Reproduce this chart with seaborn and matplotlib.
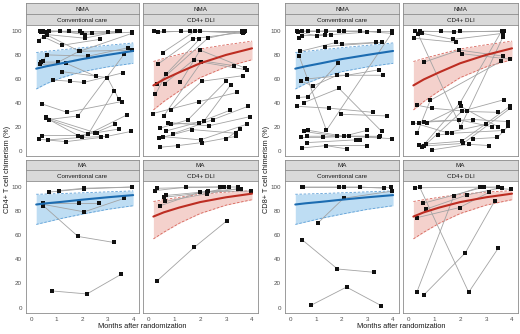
import matplotlib
matplotlib.use("Agg")
import matplotlib.pyplot as plt
import seaborn as sns
import pandas as pd

sns.set_style("white")
plt.rcParams["font.family"] = ["Liberation Sans", "DejaVu Sans"]

# ---- data: one (months, chimerism %) pair per patient, per panel ----
cd4_nma_cc = [
    ([0.34, 1.15, 2.1, 3.95], [100, 100, 97, 99]),
    ([0.45, 1.9, 3.35], [100, 100, 100]),
    ([0.55, 1.5, 2.4, 3.0], [99, 100, 98, 99]),
    ([0.3, 0.7, 2.0], [92, 100, 98]),
    ([0.5, 1.2, 2.7], [95, 88, 93]),
    ([0.62, 2.1, 3.5], [97, 94, 100]),
    ([0.4, 1.9, 3.95], [99, 83, 98]),
    ([0.38, 1.07, 1.88, 3.97], [74, 74, 83, 84]),
    ([0.35, 1.37, 2.55], [72, 73, 62]),
    ([0.45, 0.63, 2.25, 3.81], [75, 80, 79, 86]),
    ([0.85, 1.54, 2.06, 3.59], [59, 58, 57, 65]),
    ([1.22, 2.99, 3.44], [66, 61, 43]),
    ([0.7, 1.84, 3.66], [26, 29, 81]),
    ([0.43, 1.41, 3.55], [39, 32, 41]),
    ([0.57, 2.52, 3.29], [28, 15, 22]),
    ([0.7, 1.98, 3.77], [26, 11, 30]),
    ([0.31, 1.36, 2.73], [9.5, 7.5, 11]),
    ([0.43, 1.83, 2.58, 3.43], [12.6, 12.6, 15, 18]),
    ([0.67, 1.98, 2.99, 3.91], [9, 11, 12, 16]),
    ([0.57, 2.25, 3.25], [27, 14, 50]),
]
cd4_nma_dli = [
    ([0.21, 1.28, 3.68], [100, 100, 100]),
    ([0.38, 1.6, 3.6], [99, 100, 99]),
    ([0.6, 1.98, 3.72], [100, 100, 100]),
    ([0.56, 1.81, 3.64], [82, 100, 98]),
    ([0.36, 1.73, 3.7], [72, 93.5, 99]),
    ([0.34, 2.3, 3.6], [56, 94, 100]),
    ([0.28, 0.69, 1.97], [47, 64, 93]),
    ([0.63, 1.76, 3.31], [56, 76, 71]),
    ([1.24, 2.0, 3.73], [57, 84, 69]),
    ([0.6, 2.05, 3.8], [29, 74, 67.5]),
    ([0.88, 2.07, 3.64], [34, 58, 62.6]),
    ([0.18, 1.97, 3.42], [31, 41, 48.6]),
    ([0.44, 1.53, 3.0], [18.7, 25.7, 58]),
    ([0.7, 2.16, 3.18], [16.5, 25, 55]),
    ([0.76, 2.33, 3.94], [23.5, 20.7, 28.5]),
    ([0.89, 1.94, 3.16], [22, 23.5, 33.8]),
    ([0.94, 2.51, 3.84], [14, 26, 37]),
    ([0.41, 1.68, 3.37], [10.3, 17.6, 14.5]),
    ([0.56, 2.02, 3.79], [11.7, 9, 22]),
    ([0.44, 1.15, 2.06, 3.4], [2.8, 4.2, 6.7, 12]),
    ([2.99, 3.55], [9.5, 18.4]),
]
cd4_ma_cc = [
    ([0.69, 2.08, 3.95], [95.8, 98.5, 100]),
    ([1.09, 2.08, 3.95], [97, 99, 100]),
    ([0.48, 1.86, 2.68], [86.8, 86.8, 86.8]),
    ([0.48, 2.08, 3.66], [85.6, 79.4, 90.7]),
    ([0.48, 1.84, 3.25], [84.5, 59, 54]),
    ([0.82, 2.19, 3.53], [13.8, 11.3, 27.6]),
]
cd4_ma_dli = [
    ([0.27, 1.47, 2.93], [97, 100, 100]),
    ([0.35, 2.78, 3.47], [99, 100, 100]),
    ([0.46, 1.99, 3.58], [84.5, 95.8, 98.6]),
    ([0.61, 2.26, 3.12], [91.5, 95.5, 100]),
    ([0.68, 2.31, 3.97], [93, 96.3, 96.6]),
    ([0.64, 2.28, 3.47], [88, 94.6, 98.6]),
    ([0.35, 1.77, 3.02], [22.3, 49.9, 71.8]),
]
cd8_nma_cc = [
    ([0.25, 1.1, 2.11, 3.44], [100, 100, 100, 100]),
    ([0.45, 1.41, 2.71, 3.94], [100, 100, 100, 98]),
    ([0.7, 1.9, 3.94], [100, 100, 100]),
    ([0.3, 1.05, 1.59, 2.99], [99, 96, 97, 99]),
    ([0.35, 0.48, 1.35], [94, 96, 97]),
    ([0.4, 1.8, 2.03, 3.35], [83, 90.5, 89, 90.5]),
    ([1.36, 3.56], [87, 90.5]),
    ([0.35, 1.41, 3.94], [79, 17, 98]),
    ([0.43, 0.89, 1.83, 3.61], [58, 54, 63, 63]),
    ([0.67, 2.21, 3.46], [60, 63, 67.6]),
    ([0.31, 0.69, 1.86], [44.4, 45, 73]),
    ([0.52, 1.9, 3.56], [40, 52, 16]),
    ([0.28, 1.51, 3.22], [37, 35.5, 32]),
    ([1.98, 3.75], [30.4, 29]),
    ([0.54, 1.83, 3.5], [16, 12, 12]),
    ([0.7, 2.08, 2.99], [17, 12, 17]),
    ([0.43, 1.26, 2.29, 3.94], [11, 11, 12, 10]),
    ([0.67, 2.99, 3.46], [12, 12, 11]),
    ([0.66, 2.55, 2.73], [6.7, 9, 9]),
    ([0.45, 1.39, 2.99], [2.2, 4.2, 4.2]),
    ([1.39, 2.21], [4.2, 1.4]),
]
cd8_nma_dli = [
    ([0.27, 1.28, 1.98, 3.68], [100, 100, 100, 100]),
    ([0.44, 1.76, 3.6], [100, 99, 100]),
    ([0.54, 1.73, 3.64], [98, 93, 98]),
    ([0.21, 1.84], [94, 90.5]),
    ([0.38, 2.02, 3.65], [97.5, 20, 95]),
    ([0.62, 1.97, 3.65], [74, 84, 79]),
    ([2.06, 3.91], [81, 76.5]),
    ([0.34, 0.85, 3.57], [14.5, 42, 74.6]),
    ([0.52, 2.0, 3.6], [2.8, 40, 100]),
    ([0.7, 2.08, 3.68], [5.6, 33, 42.5]),
    ([0.34, 0.9, 2.28, 3.47], [38, 35.5, 32.7, 32]),
    ([0.18, 1.5, 3.0], [23.5, 15, 22]),
    ([0.4, 2.51, 3.83], [23.5, 26, 24.3]),
    ([0.6, 1.97, 3.21], [24.3, 25.7, 20]),
    ([0.71, 2.02, 3.47], [23, 37, 19.8]),
    ([1.15, 1.68, 3.65], [13, 14.5, 16.8]),
    ([0.41, 2.06, 3.94], [5, 7.8, 37.4]),
    ([0.62, 2.12, 3.94], [3.9, 6, 35.5]),
    ([0.91, 2.34, 3.13], [0.6, 5.3, 4.2]),
    ([2.49, 3.44, 3.86], [9.8, 11, 20.6]),
]
cd8_ma_cc = [
    ([0.48, 1.88, 3.9], [100, 100, 100]),
    ([0.5, 2.1, 2.71, 3.66], [100, 100, 100, 99]),
    ([1.09, 2.08, 3.97], [70.4, 90.7, 96.6]),
    ([0.48, 1.84, 3.25], [56, 32, 29.3]),
    ([0.82, 2.19, 3.53], [2, 17, 1.7]),
]
cd8_ma_dli = [
    ([0.44, 2.33, 3.47], [100, 12.7, 49.3]),
    ([0.34, 1.76, 2.77], [13.2, 92.7, 100]),
    ([0.6, 2.2, 3.34], [10.4, 45.4, 88.7]),
    ([0.34, 1.98, 3.13], [74.6, 83, 95.8]),
    ([0.69, 2.28, 3.6], [81.7, 93.5, 99.4]),
    ([0.57, 2.93, 3.96], [86.5, 100, 98]),
    ([0.28, 3.47], [99.4, 100]),
]

# ---- fitted mean curves with 95% bands (same for CD4 and CD8) ----
fit_months = [0.2, 0.6, 1.2, 2.0, 3.0, 4.0]
fit_nma_cc = [68.5, 70.5, 73, 76.5, 80, 83.3]
fit_nma_cc_lo = [51.5, 56, 61, 66, 70, 73]
fit_nma_cc_hi = [82, 83, 84.3, 86, 88, 90]
fit_nma_dli = [54.5, 59.5, 65.5, 73, 80, 85.5]
fit_nma_dli_lo = [34, 41, 50, 61, 70, 76]
fit_nma_dli_hi = [74.5, 77, 80.5, 85, 88.5, 91.5]
fit_ma_cc = [85.5, 86.5, 87.7, 89.5, 91.5, 93.3]
fit_ma_cc_lo = [69, 71, 74, 77.5, 81.5, 84.5]
fit_ma_cc_hi = [94, 94.2, 94.6, 95.2, 96, 96.8]
fit_ma_dli = [75.5, 79, 83, 87.5, 91.5, 94.5]
fit_ma_dli_lo = [57, 62.5, 70, 78, 85, 89.5]
fit_ma_dli_hi = [88, 89.5, 91.5, 94, 95.8, 97]

regimens = ["NMA", "MA"]
arms = ["Conventional care", "CD4+ DLI"]
markers = ["CD4+", "CD8+"]
x_ticks = [0, 1, 2, 3, 4]
y_ticks = [0, 20, 40, 60, 80, 100]

patients = {
    ("CD4+", "NMA", "Conventional care"): cd4_nma_cc,
    ("CD4+", "NMA", "CD4+ DLI"): cd4_nma_dli,
    ("CD4+", "MA", "Conventional care"): cd4_ma_cc,
    ("CD4+", "MA", "CD4+ DLI"): cd4_ma_dli,
    ("CD8+", "NMA", "Conventional care"): cd8_nma_cc,
    ("CD8+", "NMA", "CD4+ DLI"): cd8_nma_dli,
    ("CD8+", "MA", "Conventional care"): cd8_ma_cc,
    ("CD8+", "MA", "CD4+ DLI"): cd8_ma_dli,
}
fits = {
    ("NMA", "Conventional care"): (fit_nma_cc, fit_nma_cc_lo, fit_nma_cc_hi),
    ("NMA", "CD4+ DLI"): (fit_nma_dli, fit_nma_dli_lo, fit_nma_dli_hi),
    ("MA", "Conventional care"): (fit_ma_cc, fit_ma_cc_lo, fit_ma_cc_hi),
    ("MA", "CD4+ DLI"): (fit_ma_dli, fit_ma_dli_lo, fit_ma_dli_hi),
}
arm_colors = {
    "Conventional care": ("#1c6cb1", "#b3d7f1", "#5e9fd6"),
    "CD4+ DLI": ("#bd2d22", "#f3c9c4", "#d8665c"),
}

rows = []
for key, pats in patients.items():
    for i, (months, vals) in enumerate(pats):
        for m, v in zip(months, vals):
            rows.append(dict(marker=key[0], regimen=key[1], arm=key[2],
                             pid=i, month=m, value=v))
df = pd.DataFrame(rows)

# ---- layout (pixel boxes) ----
W, H = 520, 334
fig = plt.figure(figsize=(W / 100, H / 100), dpi=100)


def box(x0, y0, x1, y1):
    return fig.add_axes([x0 / W, 1 - y1 / H, (x1 - x0) / W, (y1 - y0) / H])


col_x = {"CD4+": [(26, 139), (143, 258)], "CD8+": [(285, 399), (403, 518)]}
row_y = [(3, 14, 25, 156), (160, 170, 181, 313)]
grid_col = "#8c8c8c"
text_col = "#4d4d4d"

for marker in markers:
    for r, regimen in enumerate(regimens):
        s0, s1, p0, p1 = row_y[r]
        for c, arm in enumerate(arms):
            x0, x1 = col_x[marker][c]
            # strips
            for (a, b), label in [((s0, s1), regimen), ((s1, p0), arm)]:
                sa = box(x0, a, x1, b)
                sa.set_facecolor("#d9d9d9")
                sa.set_xticks([])
                sa.set_yticks([])
                for sp in sa.spines.values():
                    sp.set_color(grid_col)
                    sp.set_linewidth(0.6)
                sa.text(0.5, 0.45, label, ha="center", va="center",
                        fontsize=4.5, color="#1a1a1a", transform=sa.transAxes)

            ax = box(x0, p0, x1, p1)
            sub = df[(df.marker == marker) & (df.regimen == regimen) & (df.arm == arm)]
            fit, lo, hi = fits[(regimen, arm)]
            line_c, fill_c, edge_c = arm_colors[arm]

            ax.fill_between(fit_months, lo, hi, color=fill_c, alpha=0.85, lw=0, zorder=1)
            sns.lineplot(x=fit_months, y=lo, ax=ax, color=edge_c, lw=0.6,
                         linestyle=(0, (3, 2)), zorder=2)
            sns.lineplot(x=fit_months, y=hi, ax=ax, color=edge_c, lw=0.6,
                         linestyle=(0, (3, 2)), zorder=2)
            sns.lineplot(data=sub, x="month", y="value", units="pid",
                         estimator=None, color="#a3a3a3", lw=0.6, ax=ax,
                         zorder=3, legend=False)
            sns.scatterplot(data=sub, x="month", y="value", color="#111111",
                            s=5, marker="s", linewidth=0, ax=ax, zorder=4,
                            legend=False)
            sns.lineplot(x=fit_months, y=fit, ax=ax, color=line_c, lw=1.5, zorder=5)

            ax.set_xlim(-0.2, 4.23)
            ax.set_ylim(-4.5, 105)
            ax.set_xlabel("")
            ax.set_ylabel("")
            for sp in ax.spines.values():
                sp.set_color(grid_col)
                sp.set_linewidth(0.6)
            ax.tick_params(length=2, width=0.5, color=grid_col, labelsize=4.5,
                           labelcolor=text_col, pad=1)
            if r == 1:
                ax.set_xticks(x_ticks)
                ax.set_xticklabels([str(t) for t in x_ticks])
            else:
                ax.set_xticks([])
            if c == 0:
                ax.set_yticks(y_ticks)
                ax.set_yticklabels([str(t) for t in y_ticks])
            else:
                ax.set_yticks([])

    xa, xb = col_x[marker][0][0], col_x[marker][1][1]
    fig.text((xa + xb) / 2 / W, 1 - 326 / H, "Months after randomization",
             ha="center", va="center", fontsize=5.3, color="#1a1a1a")
    fig.text((xa - 18) / W, 1 - 169 / H, marker + " T cell chimerism (%)",
             ha="center", va="center", rotation=90, fontsize=5.3, color="#1a1a1a")

fig.savefig("out.png", dpi=100, facecolor="white")
